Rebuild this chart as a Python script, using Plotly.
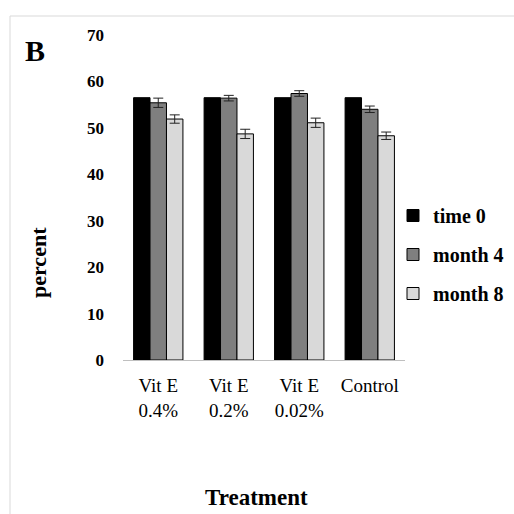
import plotly.graph_objects as go

categories = ["Vit E<br>0.4%", "Vit E<br>0.2%", "Vit E<br>0.02%", "Control"]
time0 = [56.5, 56.5, 56.5, 56.5]
month4 = [55.4, 56.4, 57.4, 54.0]
month8 = [51.9, 48.7, 51.1, 48.3]
month4_err = [1.0, 0.6, 0.6, 0.7]
month8_err = [0.9, 1.0, 1.0, 0.8]
y_ticks = [0, 10, 20, 30, 40, 50, 60, 70]

W, H = 514, 514
L, R, T, B = 123, 109, 35, 154
pw, ph = W - L - R, H - T - B

def px(x):
    return (x - L) / pw

def py(y):
    return (H - B - y) / ph

serif = "Liberation Serif, Times New Roman, serif"

fig = go.Figure()
fig.add_trace(go.Bar(name="time 0", x=categories, y=time0, legendgroup="a",
                     marker=dict(color="#000000", line=dict(color="#000000", width=1))))
fig.add_trace(go.Bar(name="month 4", x=categories, y=month4, legendgroup="b",
                     marker=dict(color="#7f7f7f", line=dict(color="#000000", width=1)),
                     error_y=dict(type="data", array=month4_err, color="#222222", thickness=1, width=5)))
fig.add_trace(go.Bar(name="month 8", x=categories, y=month8, legendgroup="c",
                     marker=dict(color="#d9d9d9", line=dict(color="#000000", width=1)),
                     error_y=dict(type="data", array=month8_err, color="#222222", thickness=1, width=5)))

fig.update_layout(
    width=W, height=H,
    margin=dict(l=L, r=R, t=T, b=B, autoexpand=False),
    paper_bgcolor="white", plot_bgcolor="white",
    barmode="group", bargap=0.3, bargroupgap=0,
    font=dict(family=serif, color="#000000"),
    showlegend=True,
    legend=dict(x=px(393), y=py(196), xanchor="left", yanchor="top",
                font=dict(family=serif, size=20, color="#000000", weight="bold"),
                itemwidth=30, tracegroupgap=10, bgcolor="rgba(0,0,0,0)"),
    xaxis=dict(showline=True, linecolor="#bfbfbf", linewidth=1, ticks="",
               tickfont=dict(family=serif, size=19, color="#000000"),
               ticklabelstandoff=8, showgrid=False),
    yaxis=dict(range=[0, 70], tickvals=y_ticks, showgrid=False, showline=False,
               ticks="", zeroline=False,
               tickfont=dict(family=serif, size=17, color="#000000", weight="bold"),
               ticklabelstandoff=18),
    annotations=[
        dict(text="B", x=px(35), y=py(51), xref="paper", yref="paper", showarrow=False,
             xanchor="center", yanchor="middle",
             font=dict(family=serif, size=30, weight="bold", color="#000000")),
        dict(text="percent", x=px(38), y=py(263), xref="paper", yref="paper", showarrow=False,
             xanchor="center", yanchor="middle",
             textangle=-90, font=dict(family=serif, size=22, weight="bold", color="#000000")),
        dict(text="Treatment", x=px(256), y=py(497), xref="paper", yref="paper", showarrow=False,
             xanchor="center", yanchor="middle",
             font=dict(family=serif, size=23, weight="bold", color="#000000")),
    ],
    shapes=[
        dict(type="line", xref="paper", yref="paper", x0=px(10), x1=px(514), y0=py(16), y1=py(16),
             line=dict(color="#d9d9d9", width=1)),
        dict(type="line", xref="paper", yref="paper", x0=px(10), x1=px(10), y0=py(16), y1=py(514),
             line=dict(color="#d9d9d9", width=1)),
    ],
)

fig.write_html("out.html", config={"displayModeBar": False},
               post_script="document.body.style.margin='0';document.body.style.padding='0';")
